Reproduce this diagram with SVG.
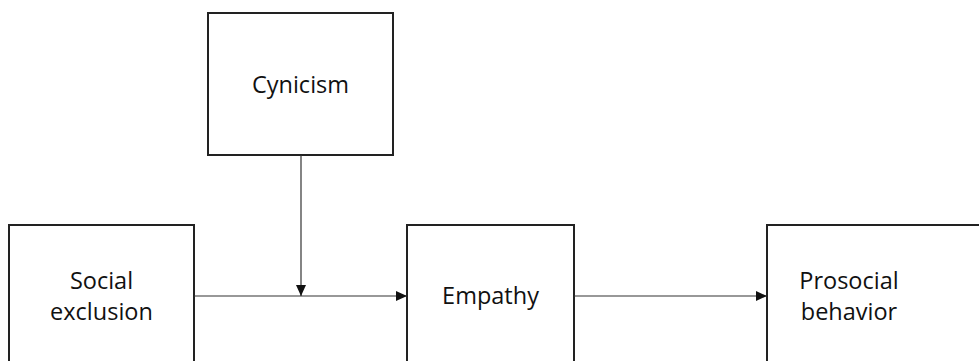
<svg xmlns="http://www.w3.org/2000/svg" width="979" height="361" viewBox="0 0 979 361">
<style>
.box{fill:#fff;stroke:#222;stroke-width:2}
.lbl{font-family:"Open Sans","Liberation Sans",sans-serif;font-size:23.5px;fill:#111;text-anchor:middle}
.edge{stroke:#333;stroke-width:1.2;fill:none}
</style>
<defs>
<marker id="ah" markerWidth="11" markerHeight="10" refX="11" refY="5" orient="auto" markerUnits="userSpaceOnUse">
<path d="M0,0 L11,5 L0,10 Z" fill="#111"/>
</marker>
</defs>
<rect width="979" height="361" fill="#fff"/>
<g id="cynicism"><rect class="box" x="208" y="13" width="185" height="142"/><text class="lbl" x="300.5" y="92.5">Cynicism</text></g>
<g id="social-exclusion"><rect class="box" x="9" y="225" width="185" height="150"/><text class="lbl" x="101.5" y="289">Social</text><text class="lbl" x="101.5" y="320">exclusion</text></g>
<g id="empathy"><rect class="box" x="407" y="225" width="167" height="150"/><text class="lbl" x="490.5" y="304">Empathy</text></g>
<g id="prosocial-behavior"><rect class="box" x="767" y="225" width="230" height="150"/><text class="lbl" x="849" y="289">Prosocial</text><text class="lbl" x="849" y="320">behavior</text></g>
<g id="connectors">
<line class="edge" x1="194" y1="296" x2="407" y2="296" marker-end="url(#ah)"/>
<line class="edge" x1="301" y1="155" x2="301" y2="296" marker-end="url(#ah)"/>
<line class="edge" x1="574" y1="296" x2="767" y2="296" marker-end="url(#ah)"/>
</g>
</svg>
